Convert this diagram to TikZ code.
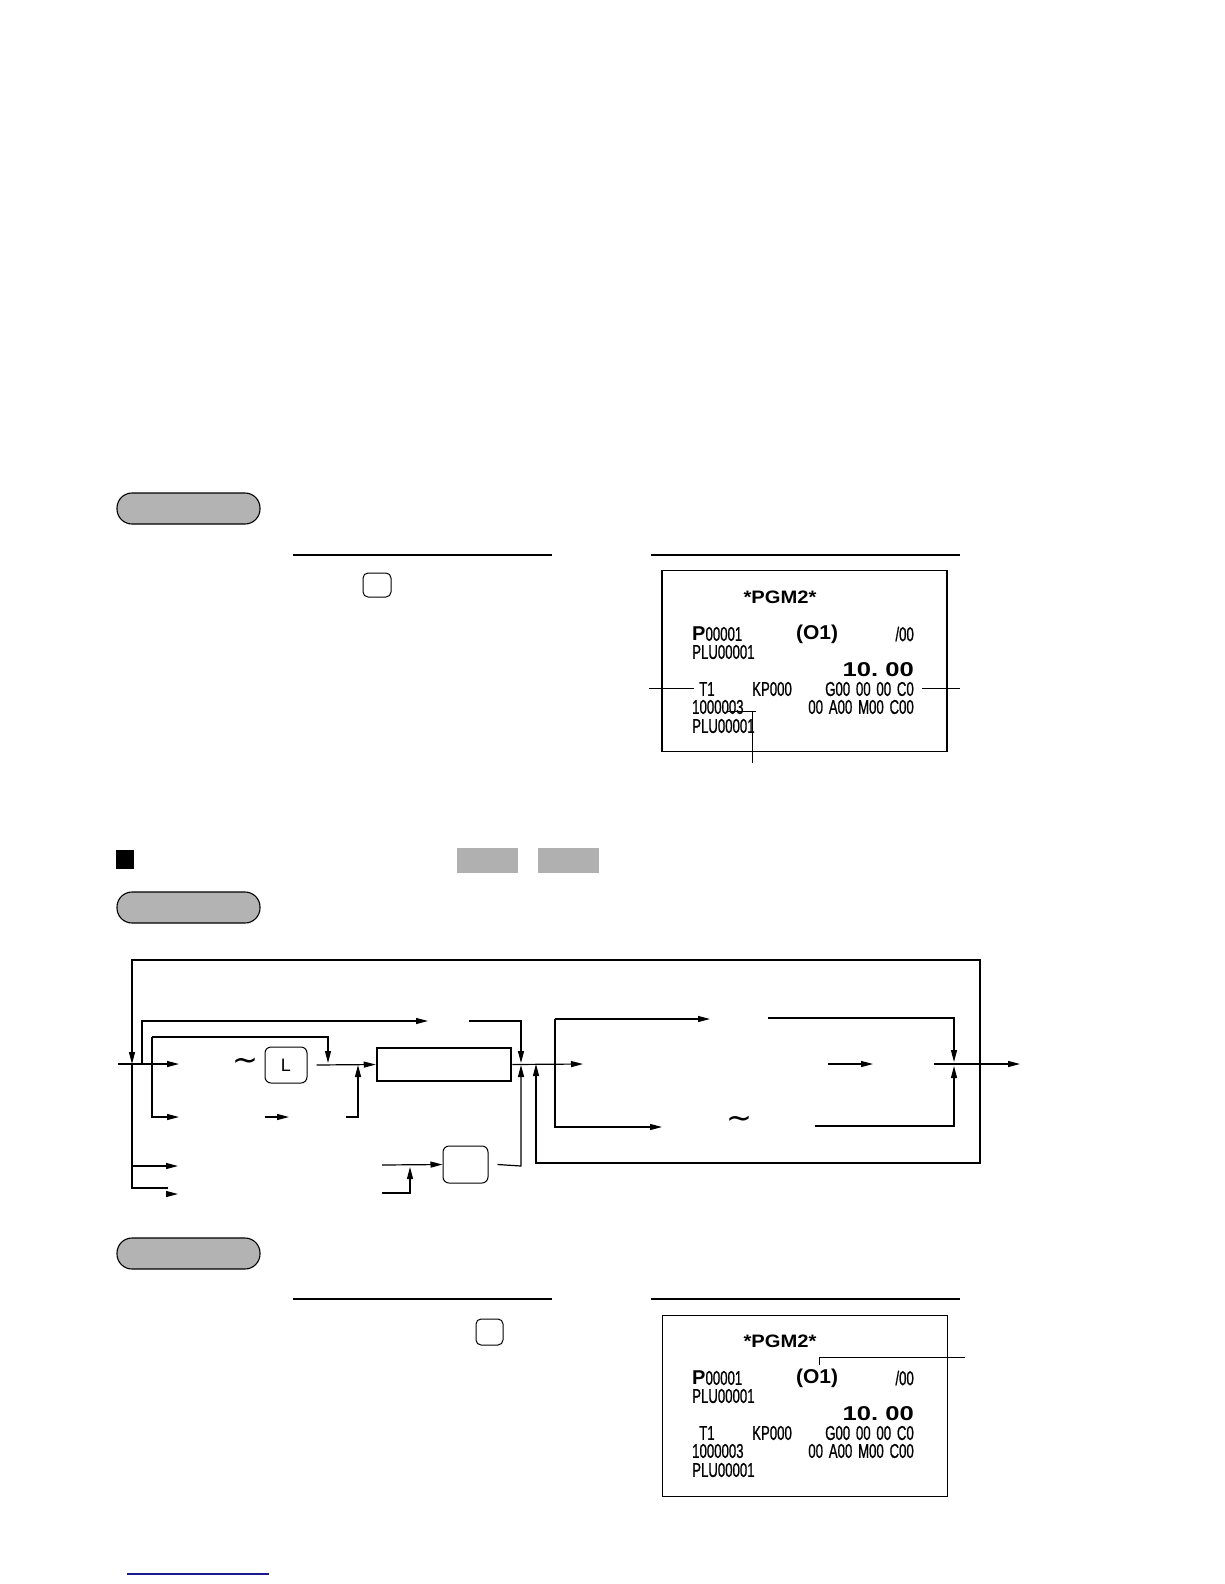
\documentclass[tikz,border=0pt]{standalone}
\usepackage{fontspec}
\usepackage{graphicx}
\usetikzlibrary{arrows.meta}
\newfontfamily\rcn[FakeStretch=0.66,FakeBold=0.8]{Liberation Sans}
\newfontfamily\rcb{Liberation Sans}
\newfontfamily\djv{DejaVu Sans}
\newcommand{\rs}{\hspace*{5.8pt}}
\definecolor{pillgray}{HTML}{B3B3B3}
\definecolor{tabgray}{HTML}{B0B0B0}
\definecolor{linkblue}{HTML}{1A1A8C}
\tikzset{
  conn/.style={line width=1.2pt},
  arr/.style={conn,-{Triangle[length=12pt,width=6pt]}},
  arrb/.style={conn,{Triangle[length=12pt,width=6pt]}-{Triangle[length=12pt,width=6pt]}},
  keybox/.style={draw,line width=1pt,rounded corners=5pt,inner sep=0pt},
  pill/.style={draw,fill=pillgray,line width=1.1pt,rounded corners=15pt,minimum width=143pt,minimum height=31pt,inner sep=0pt},
  tab/.style={fill=tabgray,minimum width=61pt,minimum height=25pt,inner sep=0pt},
  rbox/.style={draw,line width=1.5pt,minimum width=285pt,minimum height=181pt,inner sep=0pt},
  rc/.style={inner sep=0pt,font=\rcn\fontsize{20pt}{22pt}\selectfont},
  rl/.style={line width=1pt},
}
\newcommand{\rcptbody}[1]{%
  \node[inner sep=0pt] (#1pgm) at (780,597) {\scalebox{1.12}[1]{\rcb\bfseries\fontsize{18pt}{20pt}\selectfont *PGM2*}};
  \node[rc,anchor=west] (#1p) at (692,634) {{\rcb\bfseries P}00001};
  \node[inner sep=0pt] (#1o) at (817,634) {\scalebox{1.05}[1]{\rcb\bfseries\fontsize{20pt}{22pt}\selectfont (O1)}};
  \node[rc,anchor=east] (#1s) at (914,634) {/00};
  \node[rc,anchor=west] (#1plua) at (692,652) {PLU00001};
  \node[inner sep=0pt,anchor=east] (#1amt) at (914,670) {\scalebox{1.28}[1]{\rcb\bfseries\fontsize{20pt}{22pt}\selectfont 10.\ 00}};
  \node[rc,anchor=west] (#1t) at (699,689) {T1};
  \node[rc,anchor=west] (#1kp) at (752,689) {KP000};
  \node[rc,anchor=east] (#1g) at (914,689) {G00\rs00\rs00\rs C0};
  \node[rc,anchor=west] (#1num) at (692,707) {1000003};
  \node[rc,anchor=east] (#1a) at (914,707) {00\rs A00\rs M00\rs C00};
  \node[rc,anchor=west] (#1plub) at (692,726) {PLU00001};
}
\begin{document}
\begin{tikzpicture}[x=1pt,y=-1pt]
\useasboundingbox (0,0) rectangle (1224,1584);

% ---------- first section ----------
\node[pill] (pill1) at (188.5,508.5) {};
\draw[line width=2pt] (293,555) -- (552,555);
\draw[line width=2pt] (651,555) -- (960,555);
\node[keybox,minimum width=28pt,minimum height=24pt] (k1) at (377,585) {};
\node[rbox] (r1) at (804.5,661) {};
\rcptbody{a}
\coordinate (al1) at (649,688);
\coordinate (ar1) at (960,688);
\coordinate (au1) at (727,711);
\coordinate (au2) at (756,711);
\coordinate (au3) at (752,711);
\coordinate (au4) at (752,763);
\draw[rl] (al1) -- (694,688);
\draw[rl] (922,688) -- (ar1);
\draw[rl] (au1) -- (au2);
\draw[rl] (au3) -- (au4);

% ---------- heading ----------
\node[fill=black,minimum width=18pt,minimum height=19pt,inner sep=0pt] (sq) at (125,859.5) {};
\node[tab] (tab1) at (487.5,860.5) {};
\node[tab] (tab2) at (568,860.5) {};
\node[pill] (pill2) at (188.5,907.5) {};

% ---------- flow diagram ----------
\node[keybox,minimum width=42pt,minimum height=36pt,rounded corners=6pt] (kL) at (286,1065) {\rcb\fontsize{18pt}{20pt}\selectfont L};
\node[draw,line width=2.5pt,minimum width=134pt,minimum height=33pt,inner sep=0pt] (box) at (444,1064.5) {};
\node[keybox,minimum width=45pt,minimum height=37pt,rounded corners=6pt] (k2) at (465.5,1164.5) {};
\node[inner sep=0pt] (til1) at (245,1064) {\djv\fontsize{31pt}{33pt}\selectfont ∼};
\node[inner sep=0pt] (til2) at (739,1122) {\djv\fontsize{31pt}{33pt}\selectfont ∼};

\coordinate (in) at (118,1064);
\coordinate (ja) at (132,1064);
\coordinate (jb) at (142,1064);
\coordinate (jc) at (536,1064);
% main entry
\draw[arr] (in) -- (179,1064);
% outer loop
\draw[arrb] (ja) -- (132,960) -- (980,960) -- (980,1163) -- (536,1163) -- (jc);
% left branches
\draw[conn] (ja) -- (132,1188) -- (168,1188);
\draw[arr] (132,1166) -- (178,1166);
\draw[arr] (166,1194) -- (178,1194);
% upper bypass
\draw[arr] (jb) -- (142,1021) -- (428,1021);
\draw[arr] (469,1021) -- (521,1021) -- (521,1063);
% second branch
\draw[arr] (152,1037) -- (152,1117) -- (179,1117);
\draw[arr] (152,1037) -- (328,1037) -- (328,1063);
% after L key
\draw[arr] ([xshift=9pt]kL.east) -- (box.west);
\draw[arr] (265,1117) -- (289,1117);
\draw[arr] (346,1117) -- (358,1117) -- (358,1065);
% key 2
\draw[arr] (382,1165) -- (k2.west);
\draw[arr] (382,1193) -- (410,1193) -- (410,1167);
\draw[arr] ([xshift=9pt]k2.east) -- (521,1166) -- (521,1065);
% after box
\draw[arr] (box.east) -- (583,1064);
\draw[arr] (555,1019) -- (555,1127) -- (662,1127);
\draw[arr] (555,1019) -- (710,1019);
\draw[arr] (768,1018) -- (954,1018) -- (954,1062);
\draw[arr] (815,1126) -- (954,1126) -- (954,1066);
\draw[arr] (828,1064) -- (873,1064);
\draw[arr] (934,1064) -- (1020,1064);

% ---------- second section ----------
\node[pill] (pill3) at (188.5,1253.5) {};
\draw[line width=1.2pt] (293,1299) -- (552,1299);
\draw[line width=1.2pt] (651,1299) -- (960,1299);
\node[keybox,minimum width=27pt,minimum height=26pt] (k3) at (489.5,1332) {};
\node[rbox] (r2) at (805,1406) {};
\begin{scope}[yshift=-744pt]
\rcptbody{b}
\end{scope}
\coordinate (bo1) at (819,1365);
\coordinate (bo2) at (965,1357);
\draw[rl] (bo1) -- (819,1357) -- (bo2);

% ---------- footer ----------
\draw[linkblue,line width=1.3pt] (127,1574) -- (269,1574);
\end{tikzpicture}
\end{document}
